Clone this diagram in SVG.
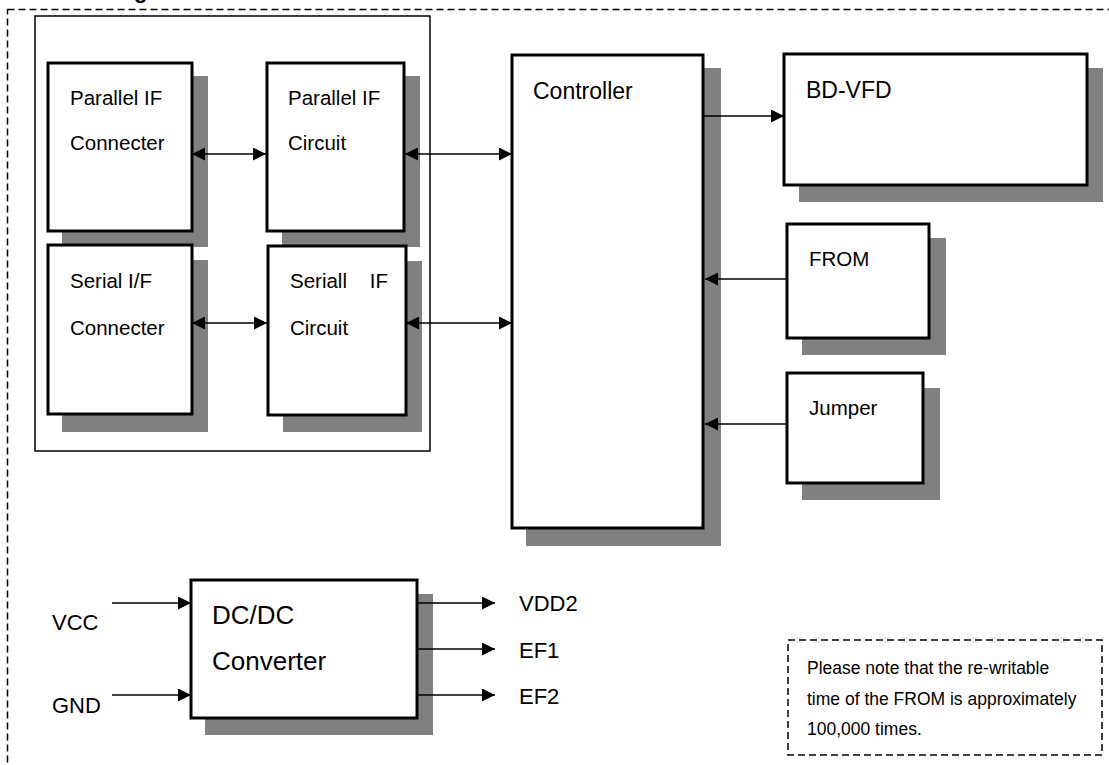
<svg xmlns="http://www.w3.org/2000/svg" width="1109" height="765" viewBox="0 0 1109 765">
<defs>
<style>
text{font-family:"Liberation Sans",Arial,sans-serif;fill:#000}
.box{fill:#fff;stroke:#000;stroke-width:3}
.sh{fill:#808080}
.ln{stroke:#000;stroke-width:1.5;fill:none}
.dash{fill:none;stroke:#000;stroke-width:1.5;stroke-dasharray:7 4}
.t20{font-size:20.5px}
.t23{font-size:23px}
.t22{font-size:22px}
.t26{font-size:26px}
.t17{font-size:17.5px}
</style>
<marker id="ah" viewBox="0 0 14 14" refX="14" refY="7" markerWidth="14" markerHeight="13" markerUnits="userSpaceOnUse" orient="auto-start-reverse">
<path d="M0,0 L14,7 L0,14 Z" fill="#000"/>
</marker>
</defs>
<rect width="1109" height="765" fill="#fff"/>
<text x="134" y="-2" style="font-size:22px;font-weight:bold">g</text>
<rect class="dash" x="7.5" y="9.5" width="1120" height="780"/>
<rect x="35" y="16" width="395" height="435" fill="none" stroke="#000" stroke-width="1.5"/>

<g id="parallel-connecter">
<rect class="sh" x="62" y="76" width="146" height="171"/>
<rect class="box" x="48" y="63" width="144" height="168"/>
<text class="t20" x="70" y="105">Parallel IF</text>
<text class="t20" x="70" y="150">Connecter</text>
</g>
<g id="parallel-circuit">
<rect class="sh" x="282" y="76" width="138" height="171"/>
<rect class="box" x="267" y="63" width="137" height="168"/>
<text class="t20" x="288" y="105">Parallel IF</text>
<text class="t20" x="288" y="150">Circuit</text>
</g>
<g id="serial-connecter">
<rect class="sh" x="62" y="260" width="146" height="172"/>
<rect class="box" x="48" y="245" width="144" height="169"/>
<text class="t20" x="70" y="288">Serial I/F</text>
<text class="t20" x="70" y="335">Connecter</text>
</g>
<g id="serial-circuit">
<rect class="sh" x="283" y="261" width="139" height="171"/>
<rect class="box" x="268" y="246" width="138" height="169"/>
<text class="t20" x="290" y="288" xml:space="preserve" style="white-space:pre">Seriall    IF</text>
<text class="t20" x="290" y="335">Circuit</text>
</g>
<g id="controller">
<rect class="sh" x="526" y="68" width="195" height="478"/>
<rect class="box" x="512" y="55" width="191" height="473"/>
<text class="t23" x="533" y="99">Controller</text>
</g>
<g id="bd-vfd">
<rect class="sh" x="799" y="68" width="304" height="134"/>
<rect class="box" x="784" y="54" width="303" height="131"/>
<text class="t23" x="806" y="98">BD-VFD</text>
</g>
<g id="from">
<rect class="sh" x="802" y="238" width="144" height="117"/>
<rect class="box" x="787" y="224" width="142" height="114"/>
<text class="t20" x="809" y="266">FROM</text>
</g>
<g id="jumper">
<rect class="sh" x="802" y="388" width="138" height="112"/>
<rect class="box" x="787" y="373" width="136" height="110"/>
<text class="t20" x="809" y="415">Jumper</text>
</g>
<g id="dcdc">
<rect class="sh" x="205" y="594" width="228" height="141"/>
<rect class="box" x="191" y="580" width="226" height="138"/>
<text class="t26" x="212" y="624">DC/DC</text>
<text class="t26" x="212" y="670">Converter</text>
</g>
<g id="labels">
<text class="t22" x="52" y="630">VCC</text>
<text class="t22" x="52" y="713">GND</text>
<text class="t22" x="519" y="611">VDD2</text>
<text class="t22" x="519" y="658">EF1</text>
<text class="t22" x="519" y="704">EF2</text>
</g>
<g id="note">
<rect class="dash" x="788" y="640" width="314" height="115"/>
<text class="t17" x="807" y="674">Please note that the re-writable</text>
<text class="t17" x="807" y="705">time of the FROM is approximately</text>
<text class="t17" x="807" y="735">100,000 times.</text>
</g>
<g id="connectors">
<line class="ln" x1="192" y1="154" x2="266" y2="154" marker-start="url(#ah)" marker-end="url(#ah)"/>
<line class="ln" x1="405" y1="154" x2="512" y2="154" marker-start="url(#ah)" marker-end="url(#ah)"/>
<line class="ln" x1="192" y1="323" x2="267" y2="323" marker-start="url(#ah)" marker-end="url(#ah)"/>
<line class="ln" x1="406" y1="323" x2="512" y2="323" marker-start="url(#ah)" marker-end="url(#ah)"/>
<line class="ln" x1="703" y1="116" x2="784" y2="116" marker-end="url(#ah)"/>
<line class="ln" x1="787" y1="279" x2="705" y2="279" marker-end="url(#ah)"/>
<line class="ln" x1="787" y1="424" x2="705" y2="424" marker-end="url(#ah)"/>
<line class="ln" x1="112" y1="603" x2="191" y2="603" marker-end="url(#ah)"/>
<line class="ln" x1="112" y1="695" x2="191" y2="695" marker-end="url(#ah)"/>
<line class="ln" x1="417" y1="603" x2="495" y2="603" marker-end="url(#ah)"/>
<line class="ln" x1="417" y1="649" x2="495" y2="649" marker-end="url(#ah)"/>
<line class="ln" x1="417" y1="695" x2="495" y2="695" marker-end="url(#ah)"/>
</g>
</svg>
